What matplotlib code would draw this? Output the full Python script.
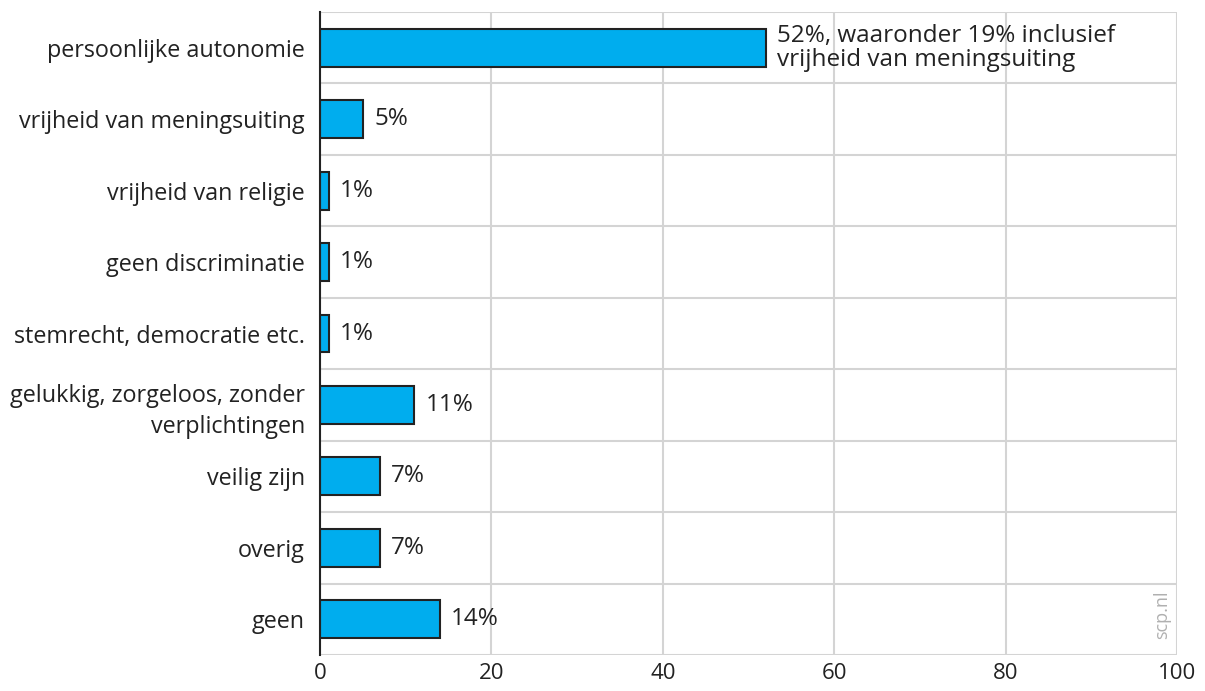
import matplotlib.pyplot as plt
import numpy as np

plt.rcParams['font.family'] = ['Open Sans', 'DejaVu Sans']

categories = [
    'persoonlijke autonomie',
    'vrijheid van meningsuiting',
    'vrijheid van religie',
    'geen discriminatie',
    'stemrecht, democratie etc.',
    'gelukkig, zorgeloos, zonder\nverplichtingen',
    'veilig zijn',
    'overig',
    'geen',
]
values = [52, 5, 1, 1, 1, 11, 7, 7, 14]
labels = [
    '52%, waaronder 19% inclusief\nvrijheid van meningsuiting',
    '5%', '1%', '1%', '1%', '11%', '7%', '7%', '14%',
]
xticks = [0, 20, 40, 60, 80, 100]

text_col = '#222222'
grid_col = '#d4d4d4'

fig = plt.figure(figsize=(12.05, 6.91), dpi=100)
ax = fig.add_axes([0.2656, 0.0521, 0.7112, 0.9305])

y = np.arange(len(categories))
ax.barh(y, values, height=0.53, color='#00adee', edgecolor='#222222',
        linewidth=1.5, zorder=3)

for yi, v, lab in zip(y, values, labels):
    ax.annotate(lab, (v, yi), xytext=(8, 0), textcoords='offset points',
                va='center', ha='left', fontsize=17.5, color=text_col,
                linespacing=1.0)

ax.set_xlim(0, 100)
ax.set_ylim(len(categories) - 0.5, -0.5)
ax.set_xticks(xticks)
ax.set_xticklabels([str(t) for t in xticks])
ax.set_yticks(y)
ax.set_yticklabels(categories, linespacing=1.4)

# horizontal separators between categories
ax.set_yticks(np.arange(-0.5, len(categories)), minor=True)
ax.grid(axis='y', which='minor', color=grid_col, linewidth=1.5, zorder=0)
ax.grid(axis='x', which='major', color=grid_col, linewidth=1.5, zorder=0)

ax.tick_params(axis='both', which='both', length=0, labelsize=16.8,
               labelcolor=text_col)
ax.tick_params(axis='x', pad=6, labelsize=16)
ax.tick_params(axis='y', pad=11)

for side in ['top', 'right', 'bottom']:
    ax.spines[side].set_visible(False)
ax.spines['left'].set_color('#222222')
ax.spines['left'].set_linewidth(1.5)
ax.spines['left'].set_zorder(4)

ax.text(0.983, 0.025, 'scp.nl', transform=ax.transAxes, rotation=90,
        ha='center', va='bottom', fontsize=13, color='#b0b0b0')

fig.savefig('out.png', dpi=100)
